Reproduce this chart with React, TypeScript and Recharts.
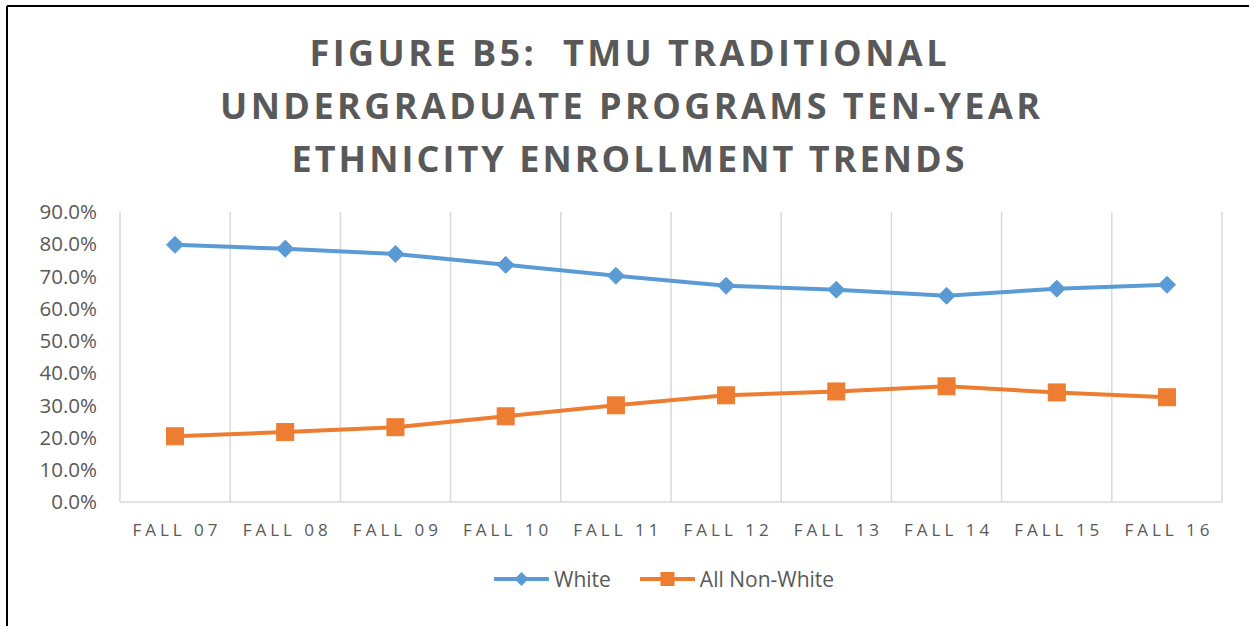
import { LineChart, Line, XAxis, YAxis, CartesianGrid, Legend } from "recharts";

const terms = ["FALL 07", "FALL 08", "FALL 09", "FALL 10", "FALL 11", "FALL 12", "FALL 13", "FALL 14", "FALL 15", "FALL 16"];
const white = [79.8, 78.6, 77.0, 73.6, 70.2, 67.1, 65.9, 64.0, 66.2, 67.4];
const nonWhite = [20.4, 21.7, 23.2, 26.6, 30.0, 33.1, 34.3, 35.9, 34.0, 32.5];
const yTicks = [0, 10, 20, 30, 40, 50, 60, 70, 80, 90];
const titleLines = ["FIGURE B5:  TMU TRADITIONAL", "UNDERGRADUATE PROGRAMS TEN-YEAR", "ETHNICITY ENROLLMENT TRENDS"];

const data = terms.map((t, i) => ({ term: t, white: white[i], nonWhite: nonWhite[i] }));

const BLUE = "#5b9bd5";
const ORANGE = "#ed7d31";
const TEXT = "#595959";
const FONT = "'Open Sans', sans-serif";

function Diamond(props: any) {
  const { cx, cy } = props;
  if (cx == null || cy == null) return null;
  const r = 8.5;
  return <path d={`M${cx},${cy - r}L${cx + r},${cy}L${cx},${cy + r}L${cx - r},${cy}Z`} fill={BLUE} stroke={BLUE} strokeWidth={1} />;
}

function Square(props: any) {
  const { cx, cy } = props;
  if (cx == null || cy == null) return null;
  const h = 8.5;
  return <rect x={cx - h} y={cy - h} width={h * 2} height={h * 2} fill={ORANGE} stroke={ORANGE} strokeWidth={1} />;
}

function XTick(props: any) {
  const { x, y, payload } = props;
  return (
    <text x={x + 2} y={y} dy="0.71em" textAnchor="middle" fill={TEXT} fontSize={17} fontFamily={FONT} letterSpacing={4}>
      {payload.value}
    </text>
  );
}

function LegendContent() {
  const items = [
    { label: "White", color: BLUE, shape: "diamond" },
    { label: "All Non-White", color: ORANGE, shape: "square" },
  ];
  return (
    <div style={{ display: "flex", alignItems: "center", gap: 29, fontFamily: FONT, fontSize: 21, color: TEXT }}>
      {items.map((it) => (
        <div key={it.label} style={{ display: "flex", alignItems: "center", gap: 5 }}>
          <svg width={55} height={20}>
            <line x1={1} y1={10} x2={54} y2={10} stroke={it.color} strokeWidth={4} strokeLinecap="round" />
            {it.shape === "diamond" ? (
              <path d="M27.5,3L34.5,10L27.5,17L20.5,10Z" fill={it.color} />
            ) : (
              <rect x={20.5} y={3} width={14} height={14} fill={it.color} />
            )}
          </svg>
          <span>{it.label}</span>
        </div>
      ))}
    </div>
  );
}

export default function App() {
  return (
    <div style={{ position: "absolute", left: 0, top: 0, width: 1249, height: 626, background: "#fff" }}>
      <svg width={1249} height={626} style={{ position: "absolute", left: 0, top: 0 }}>
        <line x1={7} y1={6} x2={1249} y2={6} stroke="#000" strokeWidth={2} />
        <line x1={7} y1={6} x2={7} y2={626} stroke="#000" strokeWidth={2} />
        {titleLines.map((t, i) => (
          <text
            key={t}
            x={[628, 630, 628][i]}
            y={66 + i * 53}
            textAnchor="middle"
            fill={TEXT}
            fontSize={36}
            fontWeight={700}
            fontFamily={FONT}
            textLength={[637, 820, 673][i]}
            lengthAdjust="spacing"
            xmlSpace="preserve"
          >
            {t}
          </text>
        ))}
      </svg>
      <div style={{ position: "absolute", left: 0, top: 0 }}>
        <LineChart width={1249} height={626} data={data} margin={{ top: 212, right: 27, left: 20, bottom: 56 }}>
          <CartesianGrid
            horizontal={false}
            stroke="#d9d9d9"
            strokeWidth={1.5}
            verticalCoordinatesGenerator={({ offset }: any) =>
              Array.from({ length: terms.length + 1 }, (_, i) => offset.left + (i * offset.width) / terms.length)
            }
          />
          <XAxis
            dataKey="term"
            padding={{ left: 55, right: 55 }}
            axisLine={{ stroke: "#d9d9d9", strokeWidth: 1.5 }}
            tickLine={false}
            tickSize={0}
            tickMargin={22}
            height={40}
            interval={0}
            tick={<XTick />}
          />
          <YAxis
            domain={[0, 90]}
            ticks={yTicks}
            width={100}
            axisLine={false}
            tickLine={false}
            tickSize={0}
            tickMargin={23}
            tickFormatter={(v: number) => `${v.toFixed(1)}%`}
            tick={{ fill: TEXT, fontSize: 20.5, fontFamily: FONT }}
          />
          <Legend
            content={<LegendContent />}
            wrapperStyle={{ position: "absolute", left: 494, top: 565, width: "auto" }}
          />
          <Line dataKey="white" name="White" stroke={BLUE} strokeWidth={4} dot={<Diamond />} activeDot={false} isAnimationActive={false} />
          <Line dataKey="nonWhite" name="All Non-White" stroke={ORANGE} strokeWidth={4} dot={<Square />} activeDot={false} isAnimationActive={false} />
        </LineChart>
      </div>
    </div>
  );
}
